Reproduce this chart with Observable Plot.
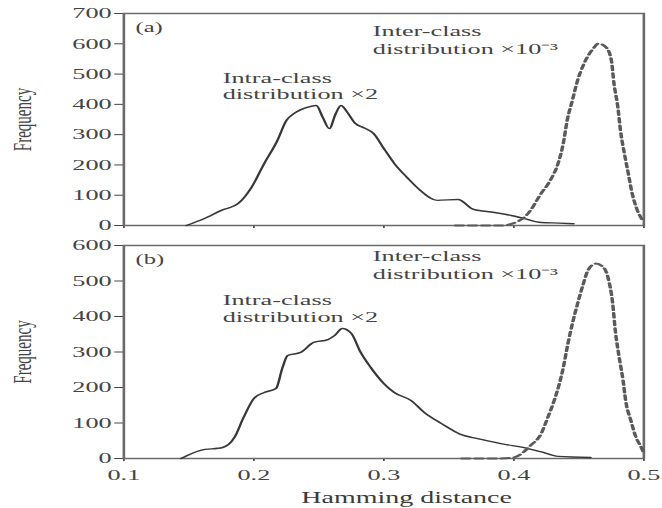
<!DOCTYPE html>
<html><head><meta charset="utf-8">
<script src="https://cdn.jsdelivr.net/npm/d3@7"></script>
<script src="https://cdn.jsdelivr.net/npm/@observablehq/plot@0.6"></script>
<style>
body{margin:0;background:#fff}
#chart{width:662px;height:508px;overflow:hidden;background:#fff}
svg{display:block}
</style>
</head><body><div id="chart"></div>
<script>
// ---- data ----
const xTicks = [0.1, 0.2, 0.3, 0.4, 0.5];
const yTicksA = [0, 100, 200, 300, 400, 500, 600, 700];
const yTicksB = [0, 100, 200, 300, 400, 500, 600];

const intraAx = [0.148,0.162,0.175,0.188,0.198,0.208,0.218,0.225,0.231,0.241,0.248,0.253,0.258,0.263,0.267,0.272,0.278,0.285,0.292,0.300,0.308,0.318,0.328,0.341,0.357,0.369,0.385,0.398,0.408,0.421,0.435,0.446];
const intraAy = [0,23,50,73,125,205,280,347,370,390,396,357,320,370,396,373,337,322,304,254,205,158,116,83,86,53,43,33,23,10,8,6];
const interAx = [0.355,0.390,0.400,0.411,0.421,0.428,0.434,0.438,0.441,0.445,0.449,0.454,0.461,0.465,0.471,0.475,0.477,0.480,0.482,0.485,0.488,0.491,0.495,0.499];
const interAy = [0,0,8,40,106,149,205,271,347,413,479,535,584,601,588,545,469,390,314,238,172,106,50,17];

const intraBx = [0.144,0.159,0.176,0.185,0.192,0.200,0.208,0.217,0.222,0.226,0.236,0.246,0.257,0.262,0.268,0.275,0.282,0.290,0.300,0.308,0.321,0.331,0.344,0.359,0.372,0.390,0.411,0.422,0.434,0.459];
const intraBy = [0,23,31,59,115,169,186,197,256,290,299,327,335,346,366,352,300,256,211,186,163,130,99,68,56,42,28,18,6,3];
const interBx = [0.360,0.390,0.400,0.413,0.421,0.426,0.431,0.435,0.438,0.441,0.445,0.449,0.453,0.457,0.463,0.469,0.473,0.476,0.478,0.481,0.484,0.486,0.490,0.494,0.498,0.500];
const interBy = [0,0,3,37,70,115,163,211,256,313,380,436,487,530,549,538,501,437,361,285,220,163,107,59,31,14];

const xLabel = "Hamming distance";
const yLabel = "Frequency";
const intraLabel = "Intra-class\ndistribution ×2";
const interLabel = "Inter-class\ndistribution ×10⁻³";

// ---- layout ----
const S = 1.75;             // the reference is stretched horizontally
const W = 662 / S;
const FONT = "Liberation Serif, Times New Roman, serif";

function pts(xs, ys) { return xs.map((x, i) => ({x, y: ys[i]})); }

function panel({height, marginTop, marginBottom, yMax, yTicks, intra, inter, tag, tagY, intraY, interY, showX, bg}) {
  const marks = [
    Plot.axisY({ticks: yTicks, tickSize: 5, tickPadding: 2, label: null, fontSize: 15}),
    showX
      ? Plot.axisX({ticks: xTicks, tickSize: 3, tickPadding: 8, label: null, fontSize: 15, tickFormat: d => d.toFixed(1)})
      : Plot.axisX({ticks: xTicks, tickSize: 3, tickFormat: () => "", label: null}),
    Plot.frame({stroke: "#6a6a6a", strokeWidth: 1.5}),
    Plot.line(intra, {x: "x", y: "y", stroke: "#383838", strokeWidth: 1.4, curve: "monotone-x"}),
    Plot.line(inter, {x: "x", y: "y", stroke: "#5a5a5a", strokeWidth: 2, strokeDasharray: "4.5,3", curve: "monotone-x"}),
    Plot.text([tag], {x: 0.109, y: tagY, textAnchor: "start", fontSize: 14, fill: "#444"}),
    Plot.text([intraLabel], {x: 0.176, y: intraY, textAnchor: "start", lineAnchor: "middle", lineHeight: 1.12, fontSize: 15, fill: "#444"}),
    Plot.text([interLabel], {x: 0.2915, y: interY, textAnchor: "start", lineAnchor: "middle", lineHeight: 1.2, fontSize: 15, fill: "#444"}),
    Plot.text([yLabel], {frameAnchor: "left", dx: -58, rotate: -90, textAnchor: "middle", lineAnchor: "middle", fontSize: 15, fill: "#444"})
  ];
  if (showX) marks.push(Plot.text([xLabel], {x: 0.3175, frameAnchor: "bottom", dy: 39, lineAnchor: "middle", fontSize: 16, fill: "#3a3a3a"}));
  const svg = Plot.plot({
    width: W, height,
    marginLeft: 123 / S, marginRight: 19 / S, marginTop, marginBottom,
    x: {domain: [0.1, 0.5], label: null},
    y: {domain: [0, yMax], label: null},
    style: {fontFamily: FONT, fontSize: "15px", color: "#444", background: bg},
    marks
  });
  svg.setAttribute("width", 662);
  svg.setAttribute("preserveAspectRatio", "none");
  svg.style.width = "662px";
  svg.style.height = height + "px";
  svg.style.maxWidth = "none";
  svg.style.overflow = "visible";
  return svg;
}

const chart = document.getElementById("chart");
chart.append(panel({
  height: 232, marginTop: 13, marginBottom: 7, yMax: 700, yTicks: yTicksA,
  intra: pts(intraAx, intraAy), inter: pts(interAx, interAy),
  tag: "(a)", tagY: 654, intraY: 462, interY: 614, showX: false, bg: "white"
}));
chart.append(panel({
  height: 276, marginTop: 13, marginBottom: 50, yMax: 600, yTicks: yTicksB,
  intra: pts(intraBx, intraBy), inter: pts(interBx, interBy),
  tag: "(b)", tagY: 561, intraY: 424, interY: 546, showX: true, bg: "transparent"
}));
</script>
</body></html>
